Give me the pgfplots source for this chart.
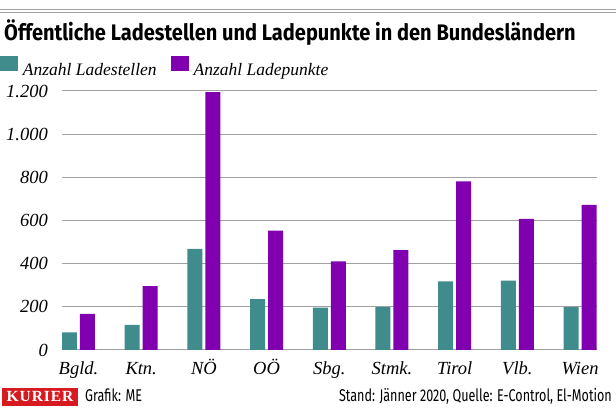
\documentclass[border=0pt]{standalone}
\usepackage{fontspec}
\usepackage{pgfplots}
\pgfplotsset{compat=1.18}
\setmainfont{Liberation Serif}
\newfontfamily\titlefont[FakeStretch=0.89]{Fira Sans}
\newfontfamily\footfont[FakeStretch=0.74]{Fira Sans}
\newfontfamily\kurierfont[LetterSpace=6]{Liberation Serif}
\definecolor{tealc}{RGB}{64,140,140}
\definecolor{purpc}{RGB}{128,0,176}
\definecolor{gridc}{RGB}{160,160,160}
\definecolor{kred}{RGB}{215,25,32}
\pgfplotsset{
  sqlegend/.style={legend image code/.code={\fill[##1] (0pt,-0.7pt) rectangle (18pt,14pt);}}
}
\begin{document}
\begin{tikzpicture}[x=1pt,y=1pt]
\useasboundingbox (0,0) rectangle (616,412);
% top rules
\draw[gridc, line width=0.9pt] (0,402.5) -- (616,402.5);
\draw[gridc, line width=0.9pt] (0,399.5) -- (616,399.5);
% title
\node[anchor=base west, inner sep=0pt] at (4,371.3) {\titlefont\bfseries\fontsize{22.5}{26}\selectfont Öffentliche Ladestellen und Ladepunkte in den Bundesländern};
\begin{axis}[
  at={(62pt,62pt)}, anchor=south west,
  scale only axis, width=535pt, height=259pt,
  xmin=-0.263, xmax=8.27, ymin=0, ymax=1200,
  ybar=3pt, bar width=15pt,
  axis line style={draw=none},
  major tick length=0pt,
  ytick={0,200,...,1200},
  ymajorgrids, grid style={gridc, line width=1pt},
  xtick={0,...,8},
  xticklabels={Bgld.,Ktn.,NÖ,OÖ,Sbg.,Stmk.,Tirol,Vlb.,Wien},
  /pgf/number format/assume math mode=true,
  /pgf/number format/1000 sep={.},
  tick label style={font=\fontsize{18.5}{21}\selectfont\itshape},
  yticklabel style={anchor=east, inner sep=0pt, xshift=-14pt},
  xticklabel style={anchor=base, inner sep=0pt, yshift=-25pt},
  legend columns=2,
  legend style={draw=none, fill=none, at={(-0.1159,1.1351)}, anchor=north west,
    inner sep=0pt, outer sep=0pt,
    font=\fontsize{17.5}{20}\selectfont\itshape,
    /tikz/every even column/.append style={column sep=9pt},
    nodes={inner xsep=5pt, inner ysep=0pt}},
]
\addplot[fill=tealc, draw=none, sqlegend] coordinates {(0,82) (1,116) (2,469) (3,236) (4,196) (5,199) (6,318) (7,321) (8,199)};
\addlegendentry{Anzahl Ladestellen}
\addplot[fill=purpc, draw=none, sqlegend] coordinates {(0,167) (1,296) (2,1195) (3,553) (4,411) (5,463) (6,781) (7,607) (8,672)};
\addlegendentry{Anzahl Ladepunkte}
\end{axis}
% footer
\fill[kred] (2,6.3) rectangle (78,24);
\node[anchor=base, inner sep=0pt, text=white] at (40,10.3) {\kurierfont\bfseries\fontsize{15.5}{18}\selectfont KURIER};
\node[anchor=base west, inner sep=0pt] at (85,10.3) {\footfont\fontsize{17}{20}\selectfont Grafik: ME};
\node[anchor=base east, inner sep=0pt] at (612,10.3) {\footfont\fontsize{17}{20}\selectfont Stand: Jänner 2020, Quelle: E-Control, El-Motion};
\end{tikzpicture}
\end{document}
